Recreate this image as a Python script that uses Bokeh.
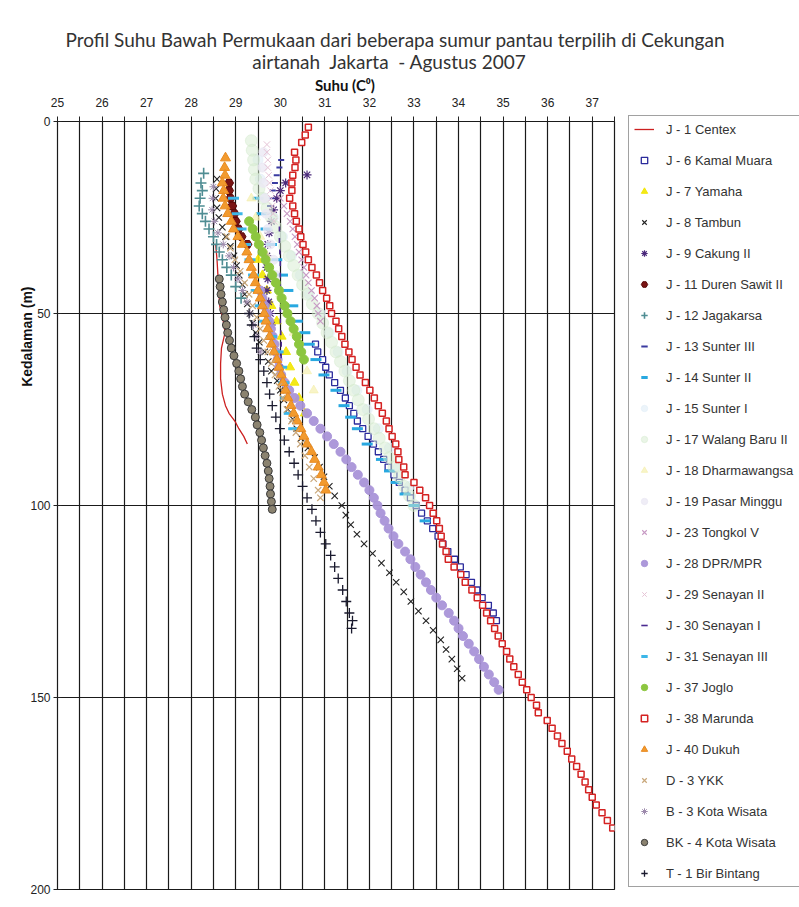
from math import pi
from bokeh.plotting import figure
from bokeh.models import Range1d, FixedTicker, Legend, LegendItem, Title, Div
from bokeh.layouts import column, row
from bokeh.embed import file_html
from bokeh.resources import INLINE

# ---------------- data (depth in m, temperature in deg C) ----------------
title_line1 = "Profil Suhu Bawah Permukaan dari beberapa sumur pantau terpilih di Cekungan"
title_line2 = "airtanah  Jakarta  - Agustus 2007"
x_title = "Suhu (C⁰)"
y_title = "Kedalaman (m)"

x_ticks = [25, 26, 27, 28, 29, 30, 31, 32, 33, 34, 35, 36, 37]
x_tick_labels = ["25", "26", "27", "28", "29", "30", "31", "32", "33", "34", "35", "36", "37"]
x_half_ticks = [25.5, 26.5, 27.5, 28.5, 29.5, 30.5, 31.5, 32.5, 33.5, 34.5, 35.5, 36.5, 37.5]
y_ticks = [0, 50, 100, 150, 200]

j1_d = [32, 36, 40, 44, 48, 52, 55, 59, 63, 67, 71, 74, 76, 78, 80, 82, 84]
j1_t = [28.55, 28.58, 28.60, 28.62, 28.64, 28.72, 28.76, 28.68, 28.66, 28.66, 28.70, 28.77, 28.85, 28.98, 29.07, 29.18, 29.26]

j6_d = [58, 60, 62, 64, 66, 68, 70, 72, 74, 76, 78, 80, 82, 84, 86, 88, 90, 92, 94, 96, 98, 100,
        102, 104, 106, 108, 110, 112, 114, 116, 118, 120, 122, 124, 126, 128, 130]
j6_t = [30.79, 30.84, 30.95, 31.02, 31.10, 31.22, 31.35, 31.46, 31.55, 31.65, 31.73, 31.85, 31.97, 32.09,
        32.20, 32.32, 32.42, 32.55, 32.67, 32.80, 32.92, 33.05, 33.17, 33.30, 33.42, 33.54, 33.65, 33.76,
        33.91, 34.04, 34.17, 34.29, 34.41, 34.53, 34.67, 34.78, 34.85]

j7_d = [36, 40, 44, 48, 52, 56, 60, 64, 68, 72, 76]
j7_t = [29.50, 29.60, 29.70, 29.80, 29.92, 30.03, 30.13, 30.22, 30.32, 30.42, 30.55]

j8_d = [15, 17.5, 20, 22.5, 25, 27.5, 30, 32.5, 35, 37.5, 40, 42.5, 45, 47.5, 50, 52.5, 55, 57.5, 60,
        62.5, 65, 67.5, 70, 72.5, 75, 77.5, 80, 82.5, 85, 87.5, 90, 92.5, 95, 97.5, 100, 102.5, 105,
        107.5, 110, 112.5, 115, 117.5, 120, 122.5, 125, 127.5, 130, 132.5, 135, 137.5, 140, 142.5, 145]
j8_t = [28.58, 28.56, 28.55, 28.58, 28.62, 28.70, 28.77, 28.88, 28.96, 29.02, 29.08, 29.15, 29.20,
        29.26, 29.32, 29.38, 29.45, 29.53, 29.65, 29.73, 29.80, 29.93, 30.00, 30.08, 30.17, 30.28,
        30.37, 30.47, 30.62, 30.77, 30.88, 30.98, 31.10, 31.22, 31.38, 31.47, 31.58, 31.72, 31.88,
        32.07, 32.27, 32.45, 32.60, 32.77, 32.93, 33.10, 33.27, 33.43, 33.60, 33.72, 33.85, 33.97, 34.08]

j9_d = [13.9, 16, 18, 20, 23, 26, 29, 32, 35, 38, 41, 44, 47, 50, 53, 56]
j9_t = [30.60, 30.12, 30.00, 29.92, 29.85, 29.80, 29.75, 29.72, 29.70, 29.70, 29.72, 29.70, 29.74, 29.78, 29.80, 29.82]

j11_d = [16, 18, 20, 22, 24, 26, 28, 30, 32]
j11_t = [28.85, 28.85, 28.88, 28.92, 28.97, 29.00, 29.06, 29.13, 29.26]

j12_d = [13.5, 16, 18, 20, 22, 24, 26, 28, 30, 32, 34, 36, 38, 40, 43, 46]
j12_t = [28.28, 28.22, 28.25, 28.20, 28.18, 28.25, 28.32, 28.40, 28.50, 28.57, 28.63, 28.70, 28.80, 28.90, 29.00, 29.12]

j13_d = [10, 12, 14, 16, 18, 20, 22, 24]
j13_t = [30.02, 29.98, 29.92, 29.88, 29.83, 29.80, 29.77, 29.75]

j14_d = [20, 24, 28, 32, 36, 40, 44, 48, 52, 55, 58, 62, 66, 70, 74, 77, 80, 84, 88, 91, 94, 97, 100, 104]
j14_t = [29.50, 29.58, 29.68, 29.80, 29.92, 30.05, 30.17, 30.28, 30.38, 30.55, 30.65, 30.80, 30.98,
         31.25, 31.43, 31.58, 31.73, 31.95, 32.27, 32.45, 32.60, 32.80, 33.00, 33.25]

j15_d = [10, 15, 20, 25, 30, 35, 40, 45, 50, 55, 60, 65, 70, 75, 80, 85, 90, 95]
j15_t = [29.50, 29.55, 29.65, 29.85, 30.05, 30.25, 30.45, 30.65, 30.90, 31.10, 31.30, 31.50, 31.72,
         31.95, 32.20, 32.45, 32.65, 32.90]

j17_d = [5, 7.5, 10, 12.5, 15, 17.5, 20, 22.5, 25, 27.5, 30, 32.5, 35, 37.5, 40, 42.5, 45, 47.5, 50,
         52.5, 55, 57.5, 60, 62.5, 65, 67.5, 70, 72.5, 75, 77.5, 80, 82.5, 85, 87.5, 90, 92.5, 95, 97.5, 100]
j17_t = [29.35, 29.37, 29.40, 29.42, 29.45, 29.52, 29.60, 29.70, 29.80, 29.90, 30.00, 30.10, 30.20,
         30.30, 30.40, 30.50, 30.60, 30.72, 30.85, 30.95, 31.05, 31.15, 31.25, 31.35, 31.45, 31.55,
         31.65, 31.75, 31.85, 31.98, 32.10, 32.22, 32.35, 32.45, 32.55, 32.67, 32.78, 32.90, 33.00]

j18_d = [20, 25, 30, 35, 40, 45, 50, 55, 60, 65, 70]
j18_t = [29.35, 29.45, 29.55, 29.70, 29.85, 30.00, 30.15, 30.30, 30.45, 30.60, 30.75]

j19_d = [8, 12, 16, 20, 24, 28, 32, 36, 40]
j19_t = [29.62, 29.60, 29.62, 29.65, 29.68, 29.72, 29.78, 29.85, 29.90]

j23_d = [20, 22, 24, 26, 28, 30, 32, 34, 36, 38, 40, 42, 44, 46, 48, 50, 52]
j23_t = [30.00, 30.08, 30.15, 30.22, 30.28, 30.33, 30.38, 30.42, 30.48, 30.53, 30.58, 30.63, 30.70,
         30.77, 30.82, 30.85, 30.90]

j28_d = [44, 46, 48, 50, 52, 54, 56, 58, 60, 62, 64, 66, 68, 70, 72, 74, 76, 78, 80, 82, 84, 86, 88,
         90, 92, 94, 96, 98, 100, 102, 104, 106, 108, 110, 112, 114, 116, 118, 120, 122, 124, 126, 128,
         130, 132, 134, 136, 138, 140, 142, 144, 146, 148]
j28_t = [29.55, 29.60, 29.65, 29.70, 29.75, 29.79, 29.83, 29.87, 29.90, 29.94, 29.97, 30.02, 30.10,
         30.20, 30.32, 30.45, 30.60, 30.75, 30.90, 31.05, 31.20, 31.35, 31.48, 31.60, 31.74, 31.88,
         32.00, 32.10, 32.18, 32.25, 32.34, 32.43, 32.54, 32.65, 32.80, 32.92, 33.03, 33.15, 33.27,
         33.38, 33.50, 33.63, 33.78, 33.90, 34.00, 34.10, 34.23, 34.35, 34.46, 34.57, 34.68, 34.80, 34.90]

j29_d = [6, 8, 10, 12, 14, 16, 18, 20, 22, 24, 26]
j29_t = [29.70, 29.70, 29.72, 29.72, 29.74, 29.76, 29.78, 29.80, 29.82, 29.84, 29.86]

j30_d = [28, 31, 34, 37, 40, 43, 46, 49, 52, 55, 58, 61, 64, 67]
j30_t = [29.98, 29.98, 29.99, 30.00, 30.00, 30.00, 30.00, 30.00, 30.00, 30.01, 30.02, 30.02, 30.03, 30.05]

j31_d = [20, 24, 28, 32, 36, 40, 44, 48, 52, 56, 60, 64, 68, 72, 76, 80]
j31_t = [28.95, 29.03, 29.12, 29.22, 29.32, 29.40, 29.46, 29.55, 29.65, 29.80, 29.95, 30.03, 30.08,
         30.12, 30.20, 30.30]

j37_d = [26, 28, 30, 32, 34, 36, 38, 40, 42, 44, 46, 48, 50, 52, 54, 56, 58, 60, 62]
j37_t = [29.30, 29.38, 29.45, 29.52, 29.60, 29.67, 29.75, 29.82, 29.90, 29.97, 30.03, 30.10, 30.16,
         30.23, 30.30, 30.37, 30.42, 30.47, 30.53]

j38_d = [1.5, 3.5, 5.5, 8, 10, 12, 14, 16, 18, 20, 22, 24, 26, 28, 30, 32, 34, 36, 38, 40, 42, 44, 46,
         48, 50, 52, 54, 56, 58, 60, 62, 64, 66, 68, 70, 72, 74, 76, 78, 80, 82, 84, 86, 88, 90, 92, 94,
         96, 98, 100, 102, 104, 106, 108, 110, 112, 114, 116, 118, 120, 122, 124, 126, 128, 130, 132,
         134, 136, 138, 140, 142, 144, 146, 148, 150, 152, 154, 156, 158, 160, 162, 164, 166, 168, 170,
         172, 174, 176, 178, 180, 182, 184]
j38_t = [30.63, 30.56, 30.48, 30.32, 30.35, 30.33, 30.28, 30.26, 30.26, 30.21, 30.28, 30.32, 30.36,
         30.42, 30.46, 30.51, 30.57, 30.63, 30.71, 30.81, 30.88, 30.95, 31.04, 31.11, 31.15, 31.25,
         31.31, 31.38, 31.45, 31.54, 31.61, 31.70, 31.79, 31.91, 32.01, 32.11, 32.20, 32.29, 32.38,
         32.44, 32.51, 32.59, 32.64, 32.66, 32.77, 32.80, 33.00, 33.13, 33.26, 33.35, 33.43, 33.51,
         33.57, 33.61, 33.64, 33.72, 33.77, 33.90, 34.05, 34.15, 34.30, 34.42, 34.54, 34.63, 34.72,
         34.81, 34.89, 34.98, 35.08, 35.15, 35.24, 35.34, 35.43, 35.53, 35.63, 35.75, 35.79, 35.99,
         36.10, 36.22, 36.32, 36.44, 36.54, 36.65, 36.75, 36.84, 36.92, 37.00, 37.09, 37.22, 37.34, 37.46]

j40_d = [9.5, 12, 14, 16, 18, 20, 22, 24, 26, 28, 30, 32, 34, 36, 38, 40, 42, 44, 46, 48, 50, 52, 54,
         56, 58, 60, 62, 64, 66, 68, 70, 72, 74, 76, 78, 80, 82, 84, 86, 88, 90, 92, 94, 96]
j40_t = [28.77, 28.75, 28.76, 28.70, 28.73, 28.72, 28.76, 28.82, 28.90, 28.95, 29.05, 29.15, 29.25,
         29.30, 29.35, 29.40, 29.44, 29.50, 29.55, 29.60, 29.64, 29.68, 29.72, 29.76, 29.80, 29.86,
         29.92, 29.97, 30.02, 30.06, 30.12, 30.17, 30.24, 30.30, 30.38, 30.46, 30.53, 30.60, 30.70,
         30.77, 30.85, 30.92, 30.98, 31.02]

d3_d = [30, 33, 36, 39, 42, 45, 48, 51, 54, 57, 60, 63, 66, 69, 72, 75, 78, 81, 84, 87, 90, 93, 96, 98]
d3_t = [28.80, 28.88, 28.98, 29.10, 29.20, 29.30, 29.38, 29.47, 29.55, 29.63, 29.72, 29.80, 29.88,
        29.97, 30.05, 30.15, 30.25, 30.35, 30.45, 30.55, 30.65, 30.75, 30.85, 30.90]

b3_d = [17, 20, 23, 26, 29, 32, 35, 38, 41, 44, 47, 50, 53, 56, 60]
b3_t = [28.50, 28.48, 28.47, 28.52, 28.60, 28.72, 28.85, 28.95, 29.05, 29.15, 29.25, 29.32, 29.40, 29.47, 29.55]

bk4_d = [41, 43, 45, 47, 49, 51, 53, 55, 57, 59, 61, 63, 65, 67, 69, 71, 73, 75, 77, 79, 81, 83, 85,
         87, 89, 91, 93, 95, 97, 99, 101]
bk4_t = [28.63, 28.65, 28.67, 28.70, 28.73, 28.76, 28.79, 28.82, 28.86, 28.90, 28.96, 29.02, 29.07,
         29.11, 29.15, 29.20, 29.28, 29.36, 29.44, 29.48, 29.54, 29.58, 29.62, 29.66, 29.70, 29.73,
         29.75, 29.77, 29.78, 29.80, 29.82]

t1_d = [50, 53, 56, 59, 62, 65, 68, 71, 74, 77, 80, 83, 86, 89, 92, 95, 98, 101, 104, 107, 110, 113,
        116, 119, 122, 125, 128, 130, 132]
t1_t = [29.30, 29.36, 29.42, 29.47, 29.55, 29.63, 29.70, 29.76, 29.82, 29.90, 29.99, 30.09, 30.20,
        30.31, 30.40, 30.50, 30.60, 30.71, 30.80, 30.90, 31.02, 31.13, 31.22, 31.30, 31.40, 31.48,
        31.55, 31.62, 31.60]

# label, depths, temperatures, marker (None = line), size, fill, line colour, line width, alpha, angle
series = [
    ("J - 1 Centex", j1_d, j1_t, None, 0, None, "#cc2020", 1.3, 1.0, 0.0),
    ("J - 6 Kamal Muara", j6_d, j6_t, "square", 6, "white", "#2b2b9c", 1.3, 1.0, 0.0),
    ("J - 7 Yamaha", j7_d, j7_t, "triangle", 9, "#f2e600", "#f2e600", 1.0, 0.9, 0.0),
    ("J - 8 Tambun", j8_d, j8_t, "x", 9, "#222222", "#222222", 1.1, 1.0, 0.0),
    ("J - 9 Cakung II", j9_d, j9_t, "asterisk", 9, "#4b2a7b", "#4b2a7b", 1.2, 1.0, 0.0),
    ("J - 11 Duren Sawit II", j11_d, j11_t, "hex", 9, "#7a1414", "#5a0a0a", 1.0, 1.0, 0.0),
    ("J - 12 Jagakarsa", j12_d, j12_t, "cross", 11, "#4f8d93", "#4f8d93", 1.6, 1.0, 0.0),
    ("J - 13 Sunter III", j13_d, j13_t, "dash", 6, "#3a3aa0", "#3a3aa0", 2.0, 1.0, 0.0),
    ("J - 14 Sunter II", j14_d, j14_t, "dash", 11, "#28a8e0", "#28a8e0", 3.0, 1.0, 0.0),
    ("J - 15 Sunter I", j15_d, j15_t, "circle", 10, "#e4f0f8", "#e4f0f8", 1.0, 0.7, 0.0),
    ("J - 17 Walang Baru II", j17_d, j17_t, "circle", 12, "#d6ecd0", "#d6ecd0", 1.0, 0.5, 0.0),
    ("J - 18 Dharmawangsa", j18_d, j18_t, "triangle", 9, "#f5efb0", "#f5efb0", 1.0, 0.7, 0.0),
    ("J - 19 Pasar Minggu", j19_d, j19_t, "circle", 9, "#ebe9f4", "#ebe9f4", 1.0, 0.8, 0.0),
    ("J - 23 Tongkol V", j23_d, j23_t, "x", 9, "#c79ac4", "#c79ac4", 1.1, 1.0, 0.0),
    ("J - 28 DPR/MPR", j28_d, j28_t, "circle", 9, "#a993d8", "#a993d8", 1.0, 0.95, 0.0),
    ("J - 29 Senayan II", j29_d, j29_t, "x", 9, "#e6c4d6", "#e6c4d6", 1.0, 1.0, 0.0),
    ("J - 30 Senayan I", j30_d, j30_t, "dash", 5, "#4a2a90", "#4a2a90", 1.6, 1.0, pi / 2),
    ("J - 31 Senayan III", j31_d, j31_t, "dash", 11, "#3cb6e8", "#3cb6e8", 3.0, 1.0, 0.0),
    ("J - 37 Joglo", j37_d, j37_t, "circle", 9, "#8cc63f", "#8cc63f", 1.0, 1.0, 0.0),
    ("J - 38 Marunda", j38_d, j38_t, "square", 6, "white", "#d42222", 1.5, 1.0, 0.0),
    ("J - 40 Dukuh", j40_d, j40_t, "triangle", 10, "#f29a2e", "#e88a20", 1.0, 1.0, 0.0),
    ("D - 3 YKK", d3_d, d3_t, "x", 9, "#c9a77a", "#c9a77a", 1.2, 1.0, 0.0),
    ("B - 3 Kota Wisata", b3_d, b3_t, "asterisk", 8, "#9d8aac", "#9d8aac", 1.0, 1.0, 0.0),
    ("BK - 4 Kota Wisata", bk4_d, bk4_t, "circle", 8, "#8b8370", "#3a3a3a", 1.0, 1.0, 0.0),
    ("T - 1 Bir Bintang", t1_d, t1_t, "cross", 10, "#1a1a2e", "#1a1a2e", 1.3, 1.0, 0.0),
]

# ---------------- header (titles) ----------------
header_html = (
    '<div style="position:relative;width:799px;height:94px;font-family:Lato,sans-serif;color:#333333;">'
    '<div style="position:absolute;left:395px;top:28px;transform:translateX(-50%);white-space:pre;'
    'font-size:19px;line-height:24px;">' + title_line1 + '</div>'
    '<div style="position:absolute;left:389px;top:50px;transform:translateX(-50%);white-space:pre;'
    'font-size:19px;line-height:24px;">' + title_line2 + '</div>'
    '<div style="position:absolute;left:345px;top:75px;transform:translateX(-50%);white-space:pre;'
    'font-size:15px;line-height:20px;font-weight:bold;color:#111111;">' + x_title + '</div>'
    '</div>'
)
header = Div(text=header_html, width=799, height=94, margin=(0, 0, 0, 0))

# ---------------- main figure ----------------
p = figure(width=628, height=805, output_backend="svg", toolbar_location=None,
           x_range=Range1d(25, 37.5), y_range=Range1d(200, 0),
           x_axis_location="above",
           min_border_left=57, min_border_right=14, min_border_top=26, min_border_bottom=10,
           background_fill_color="white", border_fill_color="white", margin=(0, 0, 0, 0))
p.title = None
p.outline_line_color = "#1a1a1a"
p.outline_line_width = 1.2

tick_font = "'Liberation Sans Narrow', 'Liberation Sans', sans-serif"
xa = p.xaxis[0]
xa.ticker = FixedTicker(ticks=x_ticks, minor_ticks=x_half_ticks)
xa.major_label_overrides = {float(v): s for v, s in zip(x_ticks, x_tick_labels)}
xa.major_label_text_font = tick_font
xa.major_label_text_font_size = "12px"
xa.major_label_text_color = "#222222"
xa.major_tick_out = 5
xa.major_tick_in = 0
xa.minor_tick_out = 5
xa.minor_tick_in = 0
xa.major_tick_line_color = "#222222"
xa.minor_tick_line_color = "#222222"
xa.axis_line_color = "#1a1a1a"
xa.major_label_standoff = 10

ya = p.yaxis[0]
ya.ticker = FixedTicker(ticks=y_ticks)
ya.major_label_text_font = tick_font
ya.major_label_text_font_size = "12px"
ya.major_label_text_color = "#222222"
ya.major_tick_out = 4
ya.major_tick_in = 4
ya.minor_tick_out = 0
ya.minor_tick_in = 0
ya.major_tick_line_color = "#222222"
ya.axis_line_color = "#1a1a1a"
ya.major_label_standoff = 3

p.xgrid.ticker = FixedTicker(ticks=x_ticks, minor_ticks=x_half_ticks)
p.xgrid.grid_line_color = "#1a1a1a"
p.xgrid.grid_line_width = 1.2
p.xgrid.minor_grid_line_color = "#1a1a1a"
p.xgrid.minor_grid_line_width = 1.2
p.ygrid.ticker = FixedTicker(ticks=y_ticks)
p.ygrid.grid_line_color = "#1a1a1a"
p.ygrid.grid_line_width = 1.2

ty = Title(text=y_title, align="right", offset=165,
           text_font="'Liberation Sans', Arial, sans-serif", text_font_size="14px",
           text_font_style="bold", text_color="#111111", standoff=-14)
p.add_layout(ty, "left")

# ---------------- legend figure ----------------
pl = figure(width=171, height=805, output_backend="svg", toolbar_location=None,
            x_range=Range1d(0, 1), y_range=Range1d(0, 1), x_axis_type=None, y_axis_type=None,
            min_border_left=0, min_border_right=0, min_border_top=0, min_border_bottom=0,
            background_fill_color="white", border_fill_color="white", margin=(0, 0, 0, 0))
pl.title = None
pl.outline_line_color = None
pl.xgrid.visible = False
pl.ygrid.visible = False
if "frame_align" in pl.properties():
    pl.frame_align = False
    p.frame_align = False


def draw(fig, d, t, marker, size, fill, line, lw, alpha, angle):
    if marker is None:
        return fig.line(x=t, y=d, line_color=line, line_width=lw)
    return fig.scatter(x=t, y=d, marker=marker, size=size, fill_color=fill, line_color=line,
                       line_width=lw, fill_alpha=alpha, line_alpha=alpha, angle=angle)


items = []
for (lab, d, t, marker, size, fill, line, lw, alpha, angle) in series:
    draw(p, d, t, marker, size, fill, line, lw, alpha, angle)
    # proxy in the legend panel: same data, lies outside that panel's 0..1 ranges (only the key shows)
    proxy = draw(pl, d, t, marker, size, fill, line, lw, alpha, angle)
    items.append(LegendItem(label=lab, renderers=[proxy]))

legend = Legend(items=items, location=(0, 12), orientation="vertical",
                label_text_font="'Liberation Sans', Arial, sans-serif", label_text_font_size="13px",
                label_text_color="#333333", label_height=16, glyph_height=16, glyph_width=20,
                label_width=140, spacing=15, padding=5, label_standoff=12, margin=0,
                border_line_color="#444444", border_line_width=1.2,
                background_fill_color="white", background_fill_alpha=1.0)
pl.add_layout(legend)

layout = column(header, row(p, pl, spacing=0), spacing=0)
open("out.html", "w").write(file_html(layout, INLINE))
